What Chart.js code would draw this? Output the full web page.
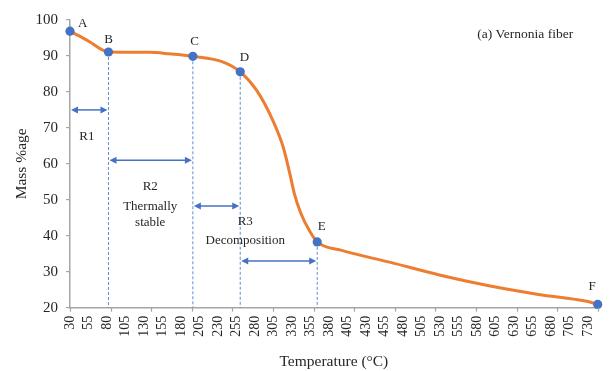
<!DOCTYPE html>
<html>
<head>
<meta charset="utf-8">
<script src="https://cdn.jsdelivr.net/npm/chart.js@4.4.1/dist/chart.umd.min.js"></script>
<style>
  html, body { margin: 0; padding: 0; background: #ffffff; }
  #wrap { width: 609px; height: 371px; }
</style>
</head>
<body>
<div id="wrap"><canvas id="tga" width="609" height="371"></canvas></div>
<script>
// Thermogravimetric curve of Vernonia fiber: residual mass vs temperature
const temperature = [30, 43, 57, 70, 82, 137, 164, 196, 237, 260, 282, 304, 318, 327, 333, 342, 353, 364, 396, 463, 529, 596, 663, 730, 743];
const massPct     = [96.9, 95.5, 93.9, 92.1, 91.1, 91.0, 90.6, 89.9, 88.3, 85.6, 80.5, 72.1, 64.7, 57.3, 51.8, 46.2, 41.6, 38.3, 36.0, 32.6, 29.1, 26.1, 23.7, 21.7, 20.9];

// Stage boundary points A–F
const keyName = ['A', 'B', 'C', 'D', 'E', 'F'];
const keyTemp = [30, 82, 196, 260, 364, 743];
const keyMass = [96.9, 91.1, 89.9, 85.6, 38.3, 20.9];

// Axis tick labels
const tempTicks = [30, 55, 80, 105, 130, 155, 180, 205, 230, 255, 280, 305, 330, 355, 380, 405, 430, 455, 480, 505, 530, 555, 580, 605, 630, 655, 680, 705, 730];
const massTicks = [20, 30, 40, 50, 60, 70, 80, 90, 100];

const SERIF = "'Liberation Serif', 'Times New Roman', serif";
const AXIS_GREY = '#a6a6a6';
const TEXT = '#262626';

// Stage arrows: [from key point, to key point, mass level]
const stageArrows = [[0, 1, 75], [1, 2, 61], [2, 3, 48.3], [3, 4, 33]];
// Stage captions placed in data units
const stageTexts = [
  ['R1', 52.7, 67.5],
  ['R2', 138.4, 53.6],
  ['Thermally', 138.4, 48.25],
  ['stable', 138.4, 43.7],
  ['R3', 266.8, 43.9],
  ['Decomposition', 266.8, 38.6]
];
const letterOffset = [[12.7, -8], [0, -12.4], [1.7, -14.3], [4.3, -14.4], [4.5, -15], [-5.7, -17.7]];

function arrowHead(ctx, x, y, dir) {
  ctx.beginPath();
  ctx.moveTo(x, y);
  ctx.lineTo(x + dir * 7, y - 3.5);
  ctx.lineTo(x + dir * 7, y + 3.5);
  ctx.closePath();
  ctx.fill();
}

const stageNotes = {
  id: 'stageNotes',
  beforeDatasetsDraw(chart) {
    const { ctx, scales: { x, y } } = chart;
    const pts = chart.getDatasetMeta(0).data;
    ctx.save();
    // dashed drop lines from B, C, D, E down to the temperature axis
    ctx.strokeStyle = '#5b8fd6';
    ctx.lineWidth = 1;
    ctx.setLineDash([3, 2]);
    for (let i = 1; i <= 4; i++) {
      ctx.beginPath();
      ctx.moveTo(pts[i].x, pts[i].y);
      ctx.lineTo(pts[i].x, y.bottom);
      ctx.stroke();
    }
    ctx.setLineDash([]);
    // double-headed stage arrows
    ctx.strokeStyle = '#4472C4';
    ctx.fillStyle = '#4472C4';
    ctx.lineWidth = 1.5;
    stageArrows.forEach(([a, b, level]) => {
      const x1 = x.getPixelForValue(keyTemp[a]) + 1;
      const x2 = x.getPixelForValue(keyTemp[b]) - 1;
      const yy = y.getPixelForValue(level);
      ctx.beginPath();
      ctx.moveTo(x1 + 4, yy);
      ctx.lineTo(x2 - 4, yy);
      ctx.stroke();
      arrowHead(ctx, x1, yy, 1);
      arrowHead(ctx, x2, yy, -1);
    });
    ctx.restore();
  },
  afterDraw(chart) {
    const { ctx, scales: { x, y } } = chart;
    const pts = chart.getDatasetMeta(0).data;
    ctx.save();
    // temperature axis tick marks
    ctx.strokeStyle = AXIS_GREY;
    ctx.lineWidth = 1.2;
    for (let i = 0; i <= 13; i++) {
      const px = Math.round(x.getPixelForValue(x.min + i * (x.max - x.min) / 13)) + 0.5;
      ctx.beginPath();
      ctx.moveTo(px, y.bottom);
      ctx.lineTo(px, y.bottom + 4);
      ctx.stroke();
    }
    ctx.fillStyle = TEXT;
    ctx.textAlign = 'center';
    ctx.textBaseline = 'middle';
    ctx.font = '13px ' + SERIF;
    stageTexts.forEach(([t, tx, ty]) => {
      ctx.fillText(t, x.getPixelForValue(tx), y.getPixelForValue(ty));
    });
    keyName.forEach((n, i) => {
      ctx.fillText(n, pts[i].x + letterOffset[i][0], pts[i].y + letterOffset[i][1]);
    });
    ctx.font = '13.5px ' + SERIF;
    ctx.fillText('(a) Vernonia fiber', x.getPixelForValue(645), y.getPixelForValue(95.9));
    ctx.restore();
  }
};

new Chart(document.getElementById('tga').getContext('2d'), {
  type: 'line',
  data: {
    datasets: [
      {
        label: 'Stage points',
        data: keyTemp.map((t, i) => ({ x: t, y: keyMass[i] })),
        showLine: false,
        pointRadius: 4.6,
        pointBackgroundColor: '#4472C4',
        pointBorderColor: '#4472C4',
        pointBorderWidth: 0,
        clip: false,
        order: 0
      },
      {
        label: 'Mass %age',
        data: temperature.map((t, i) => ({ x: t, y: massPct[i] })),
        borderColor: '#ED7D31',
        borderWidth: 3,
        pointRadius: 0,
        cubicInterpolationMode: 'monotone',
        fill: false,
        clip: false,
        order: 1
      }
    ]
  },
  options: {
    responsive: false,
    devicePixelRatio: 1,
    animation: false,
    layout: { padding: { left: 0, right: 6, top: 20, bottom: 0 } },
    plugins: { legend: { display: false }, tooltip: { enabled: false } },
    scales: {
      x: {
        type: 'linear',
        min: 30,
        max: 743,
        afterBuildTicks: s => { s.ticks = tempTicks.map(v => ({ value: v })); },
        afterFit: s => { s.height = 63.3; },
        ticks: {
          autoSkip: false, minRotation: 90, maxRotation: 90, padding: 4,
          color: TEXT, font: { family: SERIF, size: 14 }
        },
        grid: { drawOnChartArea: false, tickLength: 4, tickColor: 'rgba(0,0,0,0)' },
        border: { color: AXIS_GREY, width: 1.5 },
        title: {
          display: true, text: 'Temperature (°C)', color: TEXT,
          font: { family: SERIF, size: 15.5 }, padding: { top: 0, bottom: 0 }
        }
      },
      y: {
        type: 'linear',
        min: 20,
        max: 100,
        afterBuildTicks: s => { s.ticks = massTicks.map(v => ({ value: v })); },
        afterFit: s => { s.width = 70; },
        ticks: { padding: 8, color: TEXT, font: { family: SERIF, size: 15 } },
        grid: { drawOnChartArea: false, tickLength: 4, tickColor: AXIS_GREY, lineWidth: 1.2 },
        border: { color: AXIS_GREY, width: 1.5 },
        title: {
          display: true, text: 'Mass %age', color: TEXT,
          font: { family: SERIF, size: 15.5 }, padding: { top: 13, bottom: 0 }
        }
      }
    }
  },
  plugins: [stageNotes]
});
</script>
</body>
</html>
